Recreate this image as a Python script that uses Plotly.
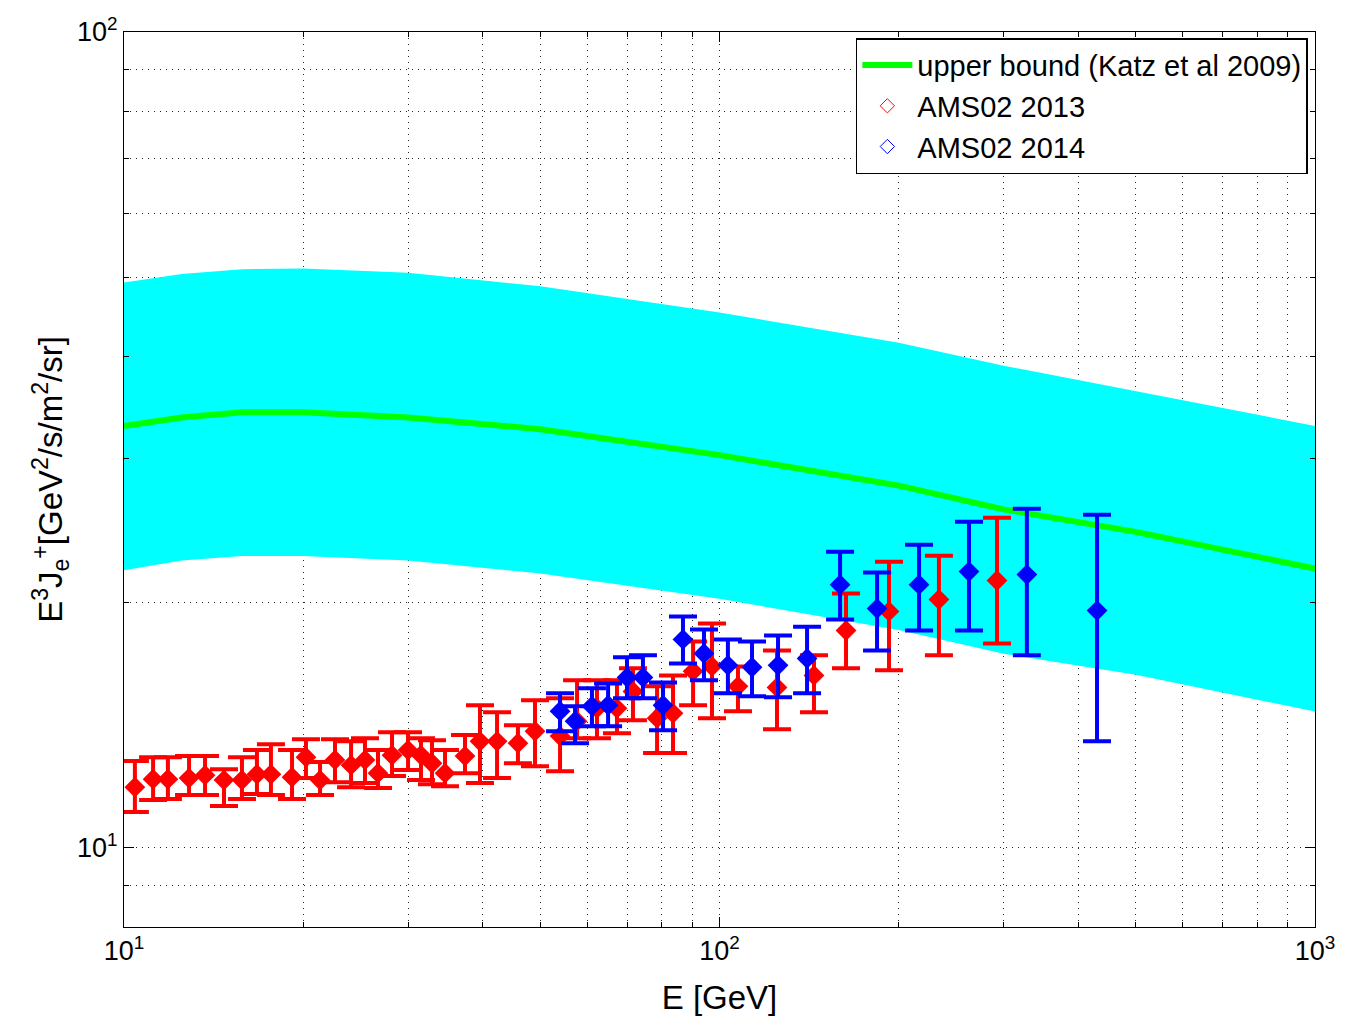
import plotly.graph_objects as go

# ---- Upper bound curve (Katz et al 2009) and its band ----
band_E = [10, 12.5, 15.8, 20, 30, 50, 100, 200, 300, 500, 1000]
bound_mid = [32.9, 33.7, 34.2, 34.2, 33.7, 32.6, 30.3, 27.8, 26.0, 24.4, 22.0]
bound_hi = [49.3, 50.5, 51.2, 51.3, 50.7, 48.8, 45.3, 41.6, 39.0, 36.3, 32.9]
bound_lo = [21.9, 22.5, 22.8, 22.8, 22.5, 21.7, 20.2, 18.5, 17.3, 16.3, 14.7]

# ---- AMS02 2013 ----
red_E = [10.43, 11.19, 11.85, 12.86, 13.68, 14.72, 15.78, 16.72, 17.65, 19.15,
         20.21, 21.34, 22.61, 24.06, 25.39, 26.70, 28.19, 29.99, 31.53, 32.90,
         34.60, 37.38, 39.61, 42.31, 45.87, 49.00, 53.98, 57.65, 62.27, 67.27,
         71.56, 78.55, 83.55, 90.29, 97.14, 107.4, 124.9, 144.1, 163.1, 192.6,
         233.6, 292.4]
red_Y = [11.87, 12.14, 12.14, 12.18, 12.28, 12.11, 12.11, 12.31, 12.31, 12.21,
         12.92, 12.11, 12.82, 12.63, 12.82, 12.35, 12.99, 13.18, 12.99, 12.70,
         12.35, 12.96, 13.51, 13.51, 13.44, 13.90, 13.71, 14.30, 14.83, 14.83,
         15.55, 14.42, 14.62, 16.46, 16.69, 15.78, 15.73, 16.27, 18.47, 19.49,
         20.16, 21.27]
red_top = [12.78, 12.92, 12.92, 12.96, 12.96, 12.49, 12.92, 13.18, 13.40, 13.18,
           13.59, 12.74, 13.59, 13.51, 13.63, 13.18, 13.86, 13.86, 13.63, 13.55,
           13.18, 13.75, 14.96, 14.66, 14.14, 15.17, 15.26, 16.05, 16.05, 16.05,
           16.60, 15.78, 16.27, 17.91, 18.84, 16.69, 17.46, 17.22, 20.50, 22.43,
           22.81, 25.39]
red_bot = [11.07, 11.45, 11.48, 11.61, 11.61, 11.26, 11.48, 11.64, 11.61, 11.48,
           12.18, 11.61, 12.04, 11.87, 12.01, 11.84, 12.25, 12.46, 12.11, 11.97,
           11.90, 12.35, 12.01, 12.18, 12.70, 12.59, 12.42, 13.63, 13.63, 13.82,
           14.34, 13.07, 13.07, 14.96, 14.42, 14.71, 13.98, 14.66, 16.60, 16.51,
           17.22, 17.81]

# ---- AMS02 2014 ----
blue_E = [53.98, 57.21, 61.07, 65.0, 69.93, 74.38, 80.38, 86.83, 94.18, 103.3,
          113.4, 125.4, 140.3, 159.4, 183.9, 216.3, 262.4, 328.2, 430.5]
blue_Y = [14.71, 14.30, 14.92, 14.96, 16.18, 16.18, 14.96, 18.01, 17.31, 16.74,
          16.65, 16.74, 17.07, 21.02, 19.65, 21.02, 21.81, 21.63, 19.54]
blue_top = [15.47, 14.92, 15.69, 15.91, 17.13, 17.22, 15.95, 19.21, 18.52, 18.01,
            17.91, 18.21, 18.67, 23.07, 21.75, 23.53, 25.10, 26.04, 25.60]
blue_bot = [13.90, 13.44, 14.10, 14.10, 15.26, 15.26, 13.94, 16.83, 16.05, 15.47,
            15.34, 15.30, 15.47, 19.05, 17.46, 18.47, 18.47, 17.22, 13.51]

x_ticks = [10, 100, 1000]
x_ticktext = ["10<sup>1</sup>", "10<sup>2</sup>", "10<sup>3</sup>"]
y_ticks = [10, 100]
y_ticktext = ["10<sup>1</sup>", "10<sup>2</sup>"]
x_minor = [20, 30, 40, 50, 60, 70, 80, 90, 200, 300, 400, 500, 600, 700, 800, 900]
y_minor = [8, 9, 20, 30, 40, 50, 60, 70, 80, 90]

RED = "rgb(255,0,0)"
BLUE = "rgb(0,0,255)"
GREEN = "rgb(0,255,0)"
CYAN = "rgb(0,255,255)"
FONT = "Liberation Sans, Arial, Helvetica, sans-serif"

fig = go.Figure()

fig.add_trace(go.Scatter(x=band_E, y=bound_lo, mode="lines", line=dict(width=0, color=CYAN),
                         showlegend=False, hoverinfo="skip"))
fig.add_trace(go.Scatter(x=band_E, y=bound_hi, mode="lines", line=dict(width=0, color=CYAN),
                         fill="tonexty", fillcolor=CYAN, showlegend=False, hoverinfo="skip"))
fig.add_trace(go.Scatter(x=band_E, y=bound_mid, mode="lines", line=dict(width=6, color=GREEN),
                         name="upper bound (Katz et al 2009)"))


def add_series(E, Y, top, bot, color, name):
    plus = [t - y for t, y in zip(top, Y)]
    minus = [y - b for y, b in zip(Y, bot)]
    fig.add_trace(go.Scatter(
        x=E, y=Y, mode="markers",
        marker=dict(symbol="diamond", size=16, color=color, line=dict(width=0)),
        error_y=dict(type="data", symmetric=False, array=plus, arrayminus=minus,
                     color=color, thickness=4, width=14),
        showlegend=False, name=name))
    fig.add_trace(go.Scatter(
        x=[None], y=[None], mode="markers",
        marker=dict(symbol="diamond-open", size=11, color=color, line=dict(width=1, color=color)),
        name=name))


add_series(red_E, red_Y, red_top, red_bot, RED, "AMS02 2013")
add_series(blue_E, blue_Y, blue_top, blue_bot, BLUE, "AMS02 2014")

axis_common = dict(
    showline=True, linecolor="black", linewidth=1, mirror="allticks",
    ticks="inside", ticklen=10, tickcolor="black", tickwidth=1,
    showgrid=True, gridcolor="rgba(0,0,0,0.85)", gridwidth=1, griddash="1px,5px",
    zeroline=False,
    tickfont=dict(family=FONT, size=27, color="black"),
)

fig.update_xaxes(
    type="log", range=[1, 3],
    tickmode="array", tickvals=x_ticks, ticktext=x_ticktext,
    minor=dict(tickmode="array", tickvals=x_minor, ticks="inside", ticklen=5,
               tickcolor="black", showgrid=True, gridcolor="rgba(0,0,0,0.85)",
               gridwidth=1, griddash="1px,5px"),
    title=dict(text="E [GeV]", font=dict(family=FONT, size=33, color="black"), standoff=20),
    **axis_common)

fig.update_yaxes(
    type="log", range=[0.90309, 2],
    tickmode="array", tickvals=y_ticks, ticktext=y_ticktext,
    minor=dict(tickmode="array", tickvals=y_minor, ticks="inside", ticklen=5,
               tickcolor="black", showgrid=True, gridcolor="rgba(0,0,0,0.85)",
               gridwidth=1, griddash="1px,5px"),
    title=dict(text="E<sup>3</sup>J<sub>e</sub><sup>+</sup>[GeV<sup>2</sup>/s/m<sup>2</sup>/sr]",
               font=dict(family=FONT, size=33, color="black"), standoff=4),
    **axis_common)

fig.update_layout(
    width=1346, height=1024,
    margin=dict(l=124, r=31, t=32, b=97),
    paper_bgcolor="white", plot_bgcolor="white",
    font=dict(family=FONT, color="black"),
    legend=dict(x=0.994, y=0.993, xanchor="right", yanchor="top",
                bgcolor="white", bordercolor="black", borderwidth=1.5,
                font=dict(family=FONT, size=29, color="black"),
                traceorder="normal", itemwidth=50, tracegroupgap=0),
)

fig.write_html("out.html")
